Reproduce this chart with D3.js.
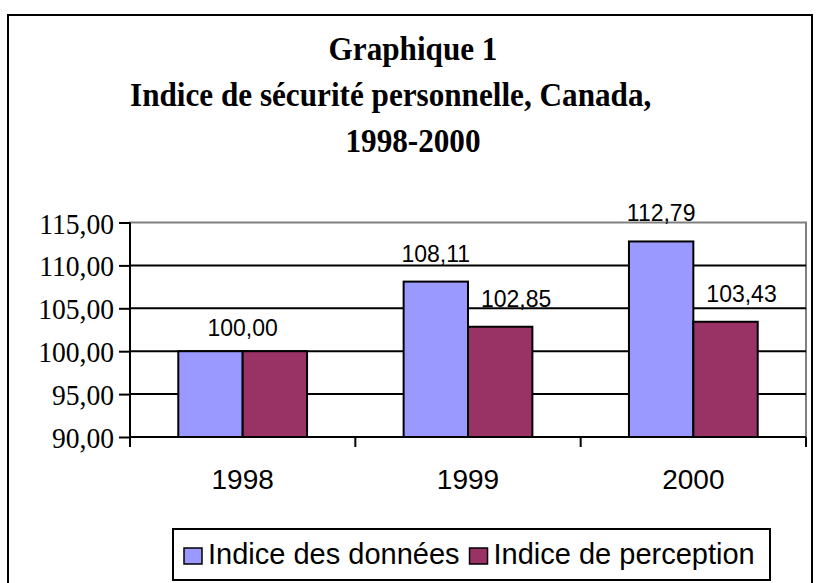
<!DOCTYPE html>
<html>
<head>
<meta charset="utf-8">
<script src="https://cdn.jsdelivr.net/npm/d3@7/dist/d3.min.js"></script>
<style>
  html, body { margin: 0; padding: 0; background: #fff; }
  svg { display: block; }
  .serif { font-family: 'Liberation Serif', 'Times New Roman', serif; }
  .sans { font-family: 'Liberation Sans', Arial, sans-serif; }
</style>
</head>
<body>
<svg id="chart" width="820" height="583"></svg>
<script>
// ---- data ----
const titleLines = ["Graphique 1", "Indice de sécurité personnelle, Canada,", "1998-2000"];
const categories = ["1998", "1999", "2000"];
const seriesNames = ["Indice des données", "Indice de perception"];
const indiceDonnees = [100.00, 108.11, 112.79];
const indicePerception = [100.00, 102.85, 103.43];
const yTicks = [90, 95, 100, 105, 110, 115];
const seriesColors = ["#9999FF", "#993366"];

(function () {
const fmt = v => d3.format(".2f")(v).replace(".", ",");
const svg = d3.select("#chart");

// outer frame
svg.append("rect").attr("x", 8).attr("y", 15).attr("width", 804).attr("height", 600)
  .attr("fill", "#fff").attr("stroke", "#000").attr("stroke-width", 2);

// title (slightly condensed bold serif)
const titleY = [60, 106, 152];
const titleX = [413, 130, 413];
const titleAnchor = ["middle", "start", "middle"];
titleLines.forEach((t, i) => {
  svg.append("text").attr("class", "serif")
    .attr("transform", `translate(${titleX[i]},${titleY[i]}) scale(0.945,1)`)
    .attr("text-anchor", titleAnchor[i])
    .style("font-weight", "bold").style("font-size", "33px")
    .text(t);
});

// plot geometry
const pLeft = 130, pRight = 806, pTop = 222.5, pBottom = 437;
const x = d3.scaleBand().domain(categories).range([pLeft, pRight]).padding(0);
const gapRatio = 1.5;
const barW = x.bandwidth() / (seriesNames.length + gapRatio);
const xs = d3.scaleBand().domain(seriesNames)
  .range([barW * gapRatio / 2, barW * gapRatio / 2 + barW * seriesNames.length]).padding(0);
const y = d3.scaleLinear().domain([90, 115]).range([pBottom, pTop]);

// plot border (gray)
svg.append("rect").attr("x", pLeft).attr("y", pTop).attr("width", pRight - pLeft).attr("height", pBottom - pTop)
  .attr("fill", "none").attr("stroke", "#808080").attr("stroke-width", 2);

// gridlines
svg.append("g").selectAll("line").data(yTicks.filter(v => v > 90 && v < 115)).join("line")
  .attr("x1", pLeft).attr("x2", pRight).attr("y1", d => y(d)).attr("y2", d => y(d))
  .attr("stroke", "#000").attr("stroke-width", 2);

// bars
const seriesData = [indiceDonnees, indicePerception];
const rows = [];
categories.forEach((c, i) => {
  seriesNames.forEach((s, j) => rows.push({ cat: c, ser: s, j, v: seriesData[j][i] }));
});
svg.append("g").selectAll("rect").data(rows).join("rect")
  .attr("x", d => x(d.cat) + xs(d.ser))
  .attr("y", d => y(d.v))
  .attr("width", xs.bandwidth())
  .attr("height", d => y(90) - y(d.v))
  .attr("fill", d => seriesColors[d.j])
  .attr("stroke", "#000").attr("stroke-width", 2);

// y axis (ticks via d3.axisLeft, labels in serif)
const yAxis = d3.axisLeft(y).tickValues(yTicks).tickSize(11).tickPadding(5).tickFormat(fmt);
const gy = svg.append("g").attr("transform", `translate(${pLeft},0)`).call(yAxis);
gy.select(".domain").attr("stroke", "#000").attr("stroke-width", 2).attr("d", `M0,${pTop}V${pBottom + 10}`);
gy.selectAll(".tick line").attr("stroke", "#000").attr("stroke-width", 2);
gy.selectAll(".tick text").remove();
svg.append("g").selectAll("text").data(yTicks).join("text")
  .attr("class", "serif")
  .attr("transform", d => `translate(${pLeft - 16},${y(d) + 11}) scale(0.92,1)`)
  .attr("text-anchor", "end")
  .style("font-size", "30px")
  .text(d => fmt(d));

// x axis line and boundary ticks
svg.append("line").attr("x1", pLeft).attr("x2", pRight).attr("y1", pBottom).attr("y2", pBottom)
  .attr("stroke", "#000").attr("stroke-width", 2);
const bounds = categories.map(c => x(c) + x.bandwidth());
svg.append("g").selectAll("line").data(bounds).join("line")
  .attr("x1", d => d).attr("x2", d => d).attr("y1", pBottom).attr("y2", pBottom + 10)
  .attr("stroke", "#000").attr("stroke-width", 2);
svg.append("g").selectAll("text").data(categories).join("text")
  .attr("class", "sans")
  .attr("x", d => x(d) + x.bandwidth() / 2).attr("y", 489)
  .attr("text-anchor", "middle")
  .style("font-size", "28px")
  .text(d => d);

// value labels
const labels = [];
categories.forEach((c, i) => {
  const a = indiceDonnees[i], b = indicePerception[i];
  if (a === b) {
    labels.push({ x: x(c) + x.bandwidth() / 2, y: y(a) - 15, v: a });
  } else {
    labels.push({ x: x(c) + xs(seriesNames[0]) + xs.bandwidth() / 2, y: y(a) - 20, v: a });
    labels.push({ x: x(c) + xs(seriesNames[1]) + xs.bandwidth() / 2 + 16, y: y(b) - 20, v: b });
  }
});
svg.append("g").selectAll("text").data(labels).join("text")
  .attr("class", "sans")
  .attr("x", d => d.x).attr("y", d => d.y).attr("text-anchor", "middle")
  .style("font-size", "23px")
  .text(d => fmt(d.v));

// legend
const lg = svg.append("g");
lg.append("rect").attr("x", 173).attr("y", 529).attr("width", 597).attr("height", 51)
  .attr("fill", "#fff").attr("stroke", "#000").attr("stroke-width", 2);
let lx = 184;
seriesNames.forEach((s, j) => {
  lg.append("rect").attr("x", lx).attr("y", 548).attr("width", 18).attr("height", 16)
    .attr("fill", seriesColors[j]).attr("stroke", "#000").attr("stroke-width", 1.5);
  const t = lg.append("text").attr("class", "sans").attr("x", lx + 24).attr("y", 564)
    .style("font-size", "29px").text(s);
  lx = lx + 24 + t.node().getComputedTextLength() + 10;
});
})();
</script>
</body>
</html>
